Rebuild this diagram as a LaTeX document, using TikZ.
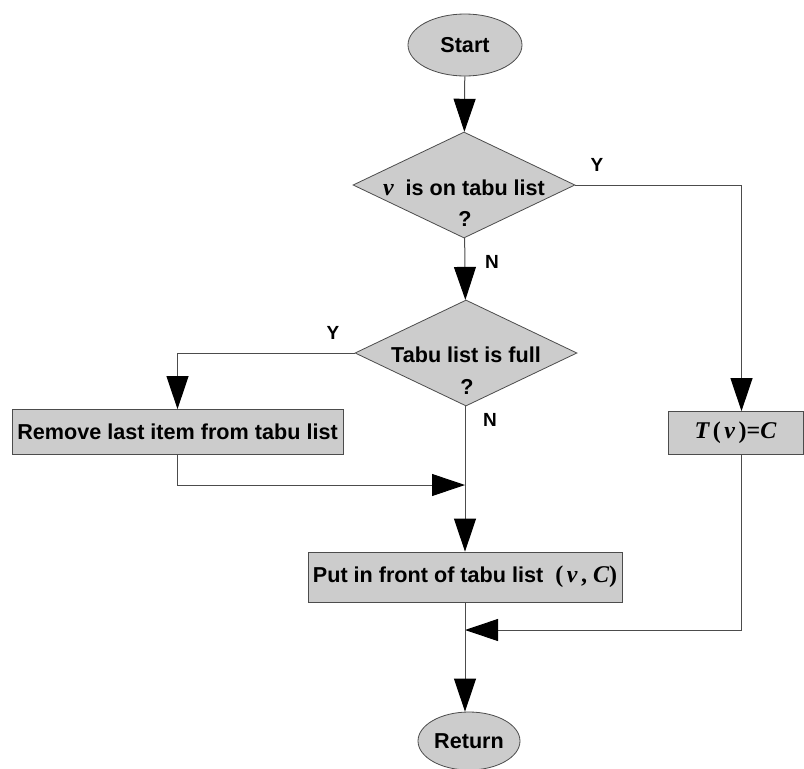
\documentclass[tikz,border=0pt]{standalone}
\usepackage{fontspec}
\setmainfont{Liberation Sans}
\newfontfamily\serifmath{Liberation Serif}
\usetikzlibrary{arrows.meta,shapes.geometric}

% math-like symbols set in a Times-style serif, slightly larger than the text
\newcommand{\mvar}[1]{{\fontsize{24}{26}\serifmath\bfseries\itshape #1}}
\newcommand{\mup}[1]{{\fontsize{24}{26}\serifmath #1}}

\begin{document}
\begin{tikzpicture}[x=1pt,y=-1pt,
  font=\fontsize{21.6}{26}\selectfont\bfseries,
  line/.style={draw=black!70, line width=1pt},
  arr/.style={line, -{Triangle[width=22pt,length=33pt]}, arrows={[color=black]}},
  shade/.style={draw=black!70, line width=0.8pt, fill=black!20},
  terminal/.style={shade, ellipse, inner sep=0pt},
  decision/.style={shade, diamond, inner sep=0pt, minimum width=222pt, minimum height=106pt},
  process/.style={shade, rectangle, inner sep=0pt},
  tag/.style={inner sep=0pt, font=\fontsize{19}{22}\selectfont\bfseries}
]
\useasboundingbox (0,0) rectangle (804,769);

% nodes
\node[terminal, minimum width=114pt, minimum height=62pt] (start) at (465,45) {Start};
\node[decision] (d1) at (464,185) {};
\node (d1t) at (464,188) {\mvar{v}\ \ is on tabu list};
\node (d1q) at (465,219) {?};

\node[decision] (d2) at (466,353) {};
\node (d2t) at (466,355) {Tabu list is full};
\node (d2q) at (467,387) {?};

\node[process, minimum width=331pt, minimum height=45pt] (rm) at (177.5,432) {Remove last item from tabu list};
\node[process, minimum width=135pt, minimum height=43pt] (tv) at (735.5,433)
  {\mvar{T}\,\mup{(}\,\mvar{v}\,\mup{)}{\fontsize{24}{26}\serifmath\bfseries=}\mvar{C}};
\node[process, minimum width=314pt, minimum height=50pt] (put) at (465,577)
  {Put in front of tabu list \ \mup{(}\,\mvar{v}\,\mup{,}\ \mvar{C}\mup{)}};
\node[terminal, minimum width=102pt, minimum height=58pt] (ret) at (469,741) {Return};

% junction points on the main column
\coordinate (j1) at (465,485);
\coordinate (j2) at (465,630);

% connectors
\draw[arr] (start) -- (d1);
\draw[arr] (d1) -- (d2);
\draw[arr] (d1.east) -| ([xshift=6pt]tv.north);
\draw[arr] (d2.west) -| (rm.north);
\draw[arr] (rm.south) |- (j1);
\draw[arr] (d2.south -| put.north) -- (put.north);
\draw[arr] ([xshift=6pt]tv.south) |- (j2);
\draw[arr] (put.south) -- (put.south |- ret.north);

% branch labels
\node[tag] (y1) at (597,165) {Y};
\node[tag] (n1) at (492,262) {N};
\node[tag] (y2) at (333,333) {Y};
\node[tag] (n2) at (490,420) {N};
\end{tikzpicture}
\end{document}
